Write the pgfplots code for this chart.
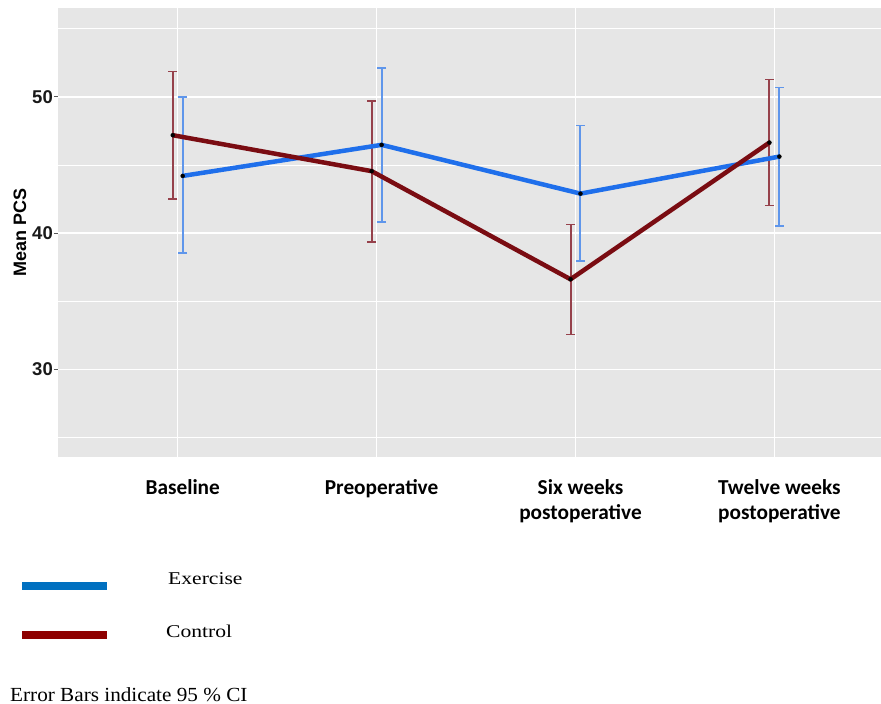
\documentclass[border=0pt]{standalone}
\usepackage{graphicx}
\usepackage{pgfplots}
\pgfplotsset{compat=1.18}
\usepackage{pgfplotstable}
\usepackage{fontspec}
\setmainfont{Liberation Serif}
\newfontfamily\arialfont{Liberation Sans}
\newfontfamily\calibrifont{Carlito}
\definecolor{panel}{HTML}{E6E6E6}
\definecolor{exline}{RGB}{31,111,235}
\definecolor{exbar}{RGB}{95,150,235}
\definecolor{ctbar}{RGB}{150,65,75}
\definecolor{ctline}{RGB}{122,12,18}
\definecolor{legblue}{HTML}{0070C0}
\definecolor{legred}{HTML}{8E0000}

\pgfplotstableread{
x y
1.025 44.20
2.025 46.48
3.025 42.90
4.025 45.62
}\exercise
\pgfplotstableread{
x y
0.975 47.19
1.975 44.55
2.975 36.61
3.975 46.65
}\control
% 95% CI ends: low / high, with a break row between bars
\pgfplotstableread{
x y
1.025 38.52
1.025 50.00
1.025 nan
2.025 40.80
2.025 52.13
2.025 nan
3.025 37.94
3.025 47.89
3.025 nan
4.025 40.51
4.025 50.68
}\exerciseci
\pgfplotstableread{
x y
0.975 42.49
0.975 51.86
0.975 nan
1.975 39.33
1.975 49.71
1.975 nan
2.975 32.55
2.975 40.63
2.975 nan
3.975 42.02
3.975 51.27
}\controlci

\begin{document}
\begin{tikzpicture}
\useasboundingbox (0pt,-704pt) rectangle (881pt,0pt);
\begin{axis}[
  at={(58pt,-457pt)}, anchor=south west,
  width=823pt, height=449pt, scale only axis,
  xmin=0.398, xmax=4.536, ymin=23.56, ymax=56.53,
  axis background/.style={fill=panel},
  axis line style={draw=none},
  unbounded coords=jump,
  xtick={1,2,3,4},
  xticklabels={Baseline, Preoperative, {Six weeks\\postoperative}, {Twelve weeks\\postoperative}},
  xticklabel style={align=center, anchor=north, inner sep=0pt, yshift=-18pt, xshift=5pt,
    font=\calibrifont\bfseries\fontsize{21.3}{25.5}\selectfont},
  x tick style={draw=none},
  ytick={30,40,50},
  minor ytick={25,35,45,55},
  y tick style={draw=black!65, line width=1pt},
  minor y tick style={draw=none},
  tick align=outside,
  major tick length=4pt,
  yticklabel style={anchor=east, inner sep=0pt, xshift=-1pt,
    font=\arialfont\bfseries\fontsize{18.5}{18.5}\selectfont, text=black!90},
  /pgf/number format/assume math mode=true,
  xmajorgrids, ymajorgrids, yminorgrids,
  major grid style={white, line width=1.4pt},
  minor grid style={white, line width=0.7pt},
  ylabel={Mean PCS},
  every axis y label/.style={at={(axis description cs:-0.0462,0.499)}, anchor=center, rotate=90,
    font=\arialfont\bfseries\fontsize{18}{18}\selectfont},
]
% error bars (CI whiskers with caps)
\addplot[color=ctbar, line width=2pt, mark=-, mark size=4.5pt,
  mark options={line width=1.6pt, color=ctbar}, forget plot] table[x=x, y=y]{\controlci};
\addplot[color=exbar, line width=2pt, mark=-, mark size=4.5pt,
  mark options={line width=1.6pt, color=exbar}, forget plot] table[x=x, y=y]{\exerciseci};
% lines
\addplot[exline, line width=4.5pt, mark=none] table[x=x, y=y]{\exercise};
\addplot[ctline, line width=4.5pt, mark=none] table[x=x, y=y]{\control};
% points
\addplot[only marks, mark=*, mark size=2pt, black] table[x=x, y=y]{\exercise};
\addplot[only marks, mark=*, mark size=2pt, black] table[x=x, y=y]{\control};
\end{axis}
% legend
\draw[line width=8.5pt, legblue] (22pt,-586pt) -- (107pt,-586pt);
\draw[line width=8.5pt, legred] (22pt,-635pt) -- (107pt,-635pt);
\node[anchor=base west, inner sep=0pt] at (168pt,-584pt) {\fontsize{18}{18}\selectfont\scalebox{1.2}[1]{Exercise}};
\node[anchor=base west, inner sep=0pt] at (166pt,-637pt) {\fontsize{18}{18}\selectfont\scalebox{1.2}[1]{Control}};
\node[anchor=base west, inner sep=0pt] at (10pt,-701pt) {\fontsize{20}{20}\selectfont\scalebox{1.06}[1]{Error Bars indicate 95 \% CI}};
\end{tikzpicture}
\end{document}
